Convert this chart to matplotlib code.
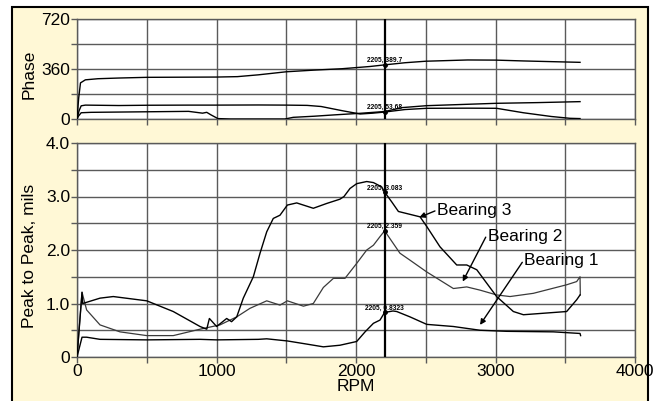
import matplotlib
matplotlib.use("Agg")
import matplotlib.pyplot as plt
from matplotlib.patches import Rectangle

plt.rcParams['font.family'] = ['Liberation Sans', 'DejaVu Sans']

# ---------------- data ----------------
cursor_rpm = 2205

# Phase curves (top panel)
phase_a_rpm = [0, 12, 25, 60, 150, 300, 500, 1000, 1150, 1300, 1500, 1700, 1900, 2100, 2205,
               2350, 2500, 2800, 3000, 3200, 3400, 3606]
phase_a_val = [0, 150, 260, 282, 290, 295, 300, 302, 305, 318, 340, 352, 362, 378, 389.7,
               405, 416, 425, 424, 418, 413, 408]

phase_b_rpm = [0, 15, 30, 60, 300, 500, 800, 1000, 1300, 1500, 1650, 1750, 1900, 2030, 2120,
               2205, 2350, 2507, 2800, 3008, 3200, 3400, 3534, 3606]
phase_b_val = [0, 60, 95, 100, 97, 99, 100, 100, 101, 100, 98, 90, 60, 36, 42,
               50, 68, 77, 78, 77, 45, 18, 5, 3]

phase_c_rpm = [0, 10, 30, 100, 500, 800, 900, 930, 960, 1010, 1100, 1490, 1550, 1700, 1850,
               2030, 2205, 2330, 2507, 3008, 3300, 3606]
phase_c_val = [0, 20, 45, 48, 52, 55, 42, 48, 30, 3, 0, 0, 12, 20, 30,
               41, 53.68, 82, 96, 113, 118, 125]

# Amplitude curves (bottom panel)
b1_rpm = [0, 36, 69, 165, 500, 882, 1000, 1300, 1360, 1508, 1650, 1766, 1885, 2005, 2065, 2125,
          2172, 2205, 2265, 2292, 2387, 2507, 2698, 2889, 3080, 3415, 3606, 3610]
b1_val = [0, 0.37, 0.37, 0.33, 0.32, 0.33, 0.32, 0.33, 0.34, 0.30, 0.24, 0.19, 0.22, 0.29, 0.47, 0.63,
          0.69, 0.8323, 0.86, 0.85, 0.75, 0.61, 0.57, 0.50, 0.48, 0.47, 0.44, 0.40]

b2_rpm = [0, 36, 69, 165, 308, 500, 690, 882, 1025, 1145, 1240, 1360, 1455, 1508, 1623, 1694,
          1766, 1838, 1921, 2005, 2077, 2125, 2172, 2205, 2315, 2387, 2507, 2698, 2794, 2889, 3008,
          3104, 3271, 3510, 3582, 3606, 3608]
b2_val = [0, 1.21, 0.88, 0.60, 0.47, 0.40, 0.40, 0.52, 0.60, 0.75, 0.91, 1.05, 0.97, 1.05, 0.95, 1.00,
          1.30, 1.47, 1.47, 1.75, 2.00, 2.09, 2.25, 2.359, 1.94, 1.81, 1.59, 1.28, 1.31, 1.25, 1.16,
          1.13, 1.19, 1.35, 1.41, 1.50, 1.16]

b3_rpm = [0, 36, 41, 165, 260, 500, 690, 882, 930, 949, 1001, 1073, 1108, 1145, 1192, 1264, 1312,
          1360, 1407, 1455, 1508, 1575, 1694, 1790, 1885, 1914, 1957, 2005, 2077, 2125, 2184, 2205,
          2256, 2304, 2459, 2507, 2602, 2722, 2794, 2866, 3008, 3128, 3200, 3510, 3582, 3606]
b3_val = [0, 1.21, 1.00, 1.10, 1.13, 1.05, 0.85, 0.57, 0.52, 0.72, 0.57, 0.72, 0.66, 0.75, 1.10, 1.50, 1.94,
          2.34, 2.59, 2.65, 2.84, 2.88, 2.78, 2.87, 2.95, 3.00, 3.15, 3.24, 3.28, 3.26, 3.18, 3.083,
          2.90, 2.72, 2.62, 2.44, 2.06, 1.72, 1.72, 1.63, 1.13, 0.85, 0.79, 0.85, 1.07, 1.16]

phase_cursor_vals = [389.7, 53.68]
amp_cursor_vals = [3.083, 2.359, 0.8323]

bearing_labels = ["Bearing 3", "Bearing 2", "Bearing 1"]

x_ticks = [0, 500, 1000, 1500, 2000, 2500, 3000, 3500, 4000]
x_ticklabels = ["0", "", "1000", "", "2000", "", "3000", "", "4000"]

# ---------------- figure ----------------
W, H = 654, 401
fig = plt.figure(figsize=(W / 100, H / 100), dpi=100, facecolor='white')
fig.patches.append(Rectangle((12 / W, -0.05), (648 - 12) / W, 1 - 7 / H + 0.05,
                             transform=fig.transFigure, facecolor='#FFF8D6',
                             edgecolor='black', linewidth=1.5, zorder=-10))

ax_top = fig.add_axes([77 / W, 1 - 119 / H, 558 / W, 100 / H])
ax_bot = fig.add_axes([77 / W, 1 - 357 / H, 558 / W, 214 / H])

grid_color = '#5a5a5a'
FS = 12.5

for ax in (ax_top, ax_bot):
    ax.set_facecolor('white')
    ax.set_xlim(0, 4000)
    ax.set_xticks(x_ticks)
    for s in ax.spines.values():
        s.set_color(grid_color)
        s.set_linewidth(1.0)
    ax.grid(True, color=grid_color, linewidth=1.0)
    ax.tick_params(axis='both', direction='out', length=4, width=1, color=grid_color,
                   labelsize=FS, pad=1)
    ax.axvline(cursor_rpm, color='black', linewidth=1.6, zorder=3)

# top panel
ax_top.set_ylim(0, 720)
ax_top.set_yticks([0, 180, 360, 540, 720])
ax_top.set_yticklabels(["0", "", "360", "", "720"])
ax_top.set_xticklabels([])
for rpm, val in ((phase_a_rpm, phase_a_val), (phase_b_rpm, phase_b_val), (phase_c_rpm, phase_c_val)):
    ax_top.plot(rpm, val, color='black', linewidth=1.0, zorder=4)
ax_top.set_ylabel("Phase", fontsize=FS)
ax_top.yaxis.set_label_coords(-0.072, 0.45)

# bottom panel
ax_bot.set_ylim(0, 4)
ax_bot.set_yticks([0, 0.5, 1, 1.5, 2, 2.5, 3, 3.5, 4])
ax_bot.set_yticklabels(["0", "", "1.0", "", "2.0", "", "3.0", "", "4.0"])
ax_bot.set_xticklabels(x_ticklabels)
ax_bot.plot(b1_rpm, b1_val, color='black', linewidth=1.0, zorder=4)
ax_bot.plot(b2_rpm, b2_val, color='#3a3a3a', linewidth=0.9, zorder=4)
ax_bot.plot(b3_rpm, b3_val, color='black', linewidth=1.0, zorder=4)
ax_bot.set_ylabel("Peak to Peak, mils", fontsize=FS)
ax_bot.yaxis.set_label_coords(-0.072, 0.47)
ax_bot.set_xlabel("RPM", fontsize=FS, labelpad=0)

# cursor markers and labels
for ax, vals in ((ax_top, phase_cursor_vals), (ax_bot, amp_cursor_vals)):
    for v in vals:
        ax.plot([cursor_rpm], [v], marker='o', markersize=2.5, color='black', zorder=5)
        ax.annotate(f"{cursor_rpm}, {v:g}", xy=(cursor_rpm, v), xytext=(0, 0.5),
                    textcoords='offset points', ha='center', va='bottom',
                    fontsize=4.8, fontweight='bold', zorder=6)

# bearing labels with arrows
label_pos = [(2580, 2.73), (2946, 2.26), (3204, 1.81)]
arrow_start = [(2566, 2.73), (2930, 2.24), (3192, 1.77)]
arrow_tip = [(2454, 2.61), (2765, 1.41), (2889, 0.60)]
for name, lp, st, tp in zip(bearing_labels, label_pos, arrow_start, arrow_tip):
    ax_bot.text(lp[0], lp[1], name, ha='left', va='center', fontsize=FS, zorder=6)
    ax_bot.annotate('', xy=tp, xytext=st,
                    arrowprops=dict(arrowstyle='-|>', color='black', lw=1.0,
                                    mutation_scale=8, shrinkA=0, shrinkB=0), zorder=6)

fig.savefig("out.png", dpi=100, facecolor=fig.get_facecolor())
